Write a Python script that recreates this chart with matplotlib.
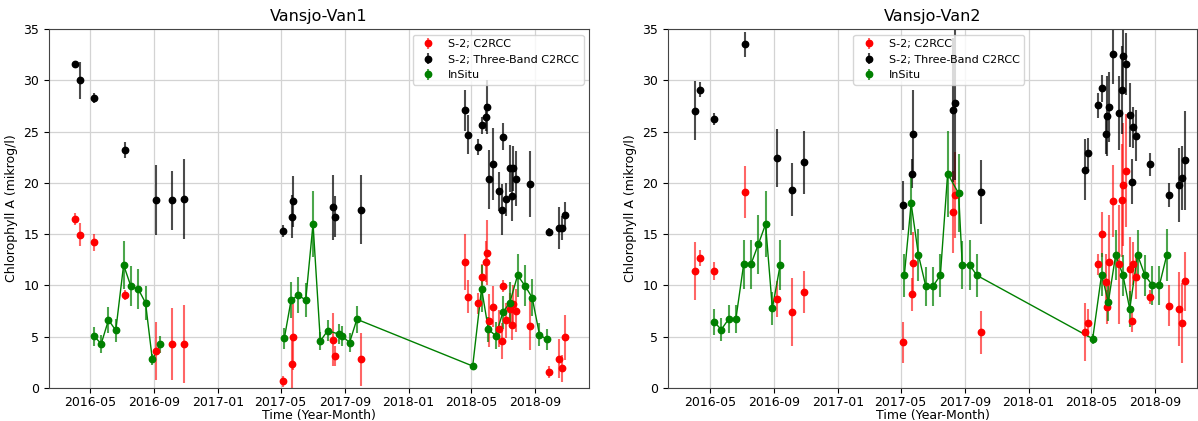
import pandas as pd
import matplotlib
matplotlib.use('Agg')
import matplotlib.pyplot as plt
import matplotlib.dates as mdates
from matplotlib.colors import to_rgba

# Sentinel-2 overpass dates (same for both stations)
sat_dates = pd.to_datetime([
    '2016-04-01', '2016-04-11', '2016-05-09', '2016-07-07', '2016-09-05', '2016-10-05', '2016-10-28',
    '2017-05-05', '2017-05-22', '2017-05-25', '2017-08-10', '2017-08-13', '2017-10-02',
    '2018-04-20', '2018-04-25', '2018-05-15', '2018-05-22', '2018-05-30', '2018-06-01', '2018-06-05',
    '2018-06-12', '2018-06-24', '2018-06-29', '2018-07-01', '2018-07-06', '2018-07-14', '2018-07-19',
    '2018-07-21', '2018-07-26', '2018-08-21', '2018-09-27', '2018-10-17', '2018-10-23', '2018-10-28'])

# In situ sampling dates
insitu_dates = pd.to_datetime([
    '2016-05-09', '2016-05-22', '2016-06-05', '2016-06-19', '2016-07-04', '2016-07-18', '2016-08-01',
    '2016-08-15', '2016-08-28', '2016-09-12',
    '2017-05-08', '2017-05-21', '2017-06-04', '2017-06-18', '2017-07-02', '2017-07-16', '2017-07-30',
    '2017-08-20', '2017-08-27', '2017-09-10', '2017-09-24',
    '2018-05-04', '2018-05-21', '2018-06-03', '2018-06-17', '2018-07-01', '2018-07-14', '2018-07-29',
    '2018-08-12', '2018-08-26', '2018-09-09', '2018-09-23'])
n_2016 = 10  # first season is not joined to the later ones

# Van1
van1_c2rcc = [16.5, 14.95, 14.2, 9.07, 3.6, 4.3, 4.25,
              0.65, 2.3, 5.0, 4.7, 3.1, 2.8,
              12.3, 8.9, 8.25, 10.85, 12.3, 13.2, 6.57, 7.93, 5.8, 4.58, 9.97, 6.6, 7.67, 6.14,
              8.2, 7.54, 6.08, 1.53, 2.83, 1.92, 4.94]
van1_c2rcc_err = [0.6, 1.1, 0.85, 0.5, 2.8, 3.5, 3.8,
                  0.55, 2.5, 3.2, 2.6, 1.0, 2.6,
                  2.7, 1.6, 1.0, 1.2, 2.0, 3.2, 2.6, 2.0, 1.8, 1.8, 0.6, 1.7, 1.6, 1.5,
                  1.8, 2.1, 2.4, 0.6, 1.9, 1.3, 2.2]
van1_3band = [31.6, 30.0, 28.3, 23.2, 18.3, 18.3, 18.4,
              15.34, 16.7, 18.2, 17.6, 16.7, 17.4,
              27.1, 24.7, 23.5, 25.6, 26.4, 27.4, 20.35, 21.8, 19.2, 17.4, 24.5, 18.4, 21.4, 18.7,
              21.4, 20.4, 19.9, 15.2, 15.6, 15.6, 16.9]
van1_3band_err = [0.2, 1.8, 0.5, 0.8, 3.4, 2.9, 3.9,
                  0.6, 2.1, 2.5, 3.2, 2.0, 3.4,
                  2.0, 1.9, 0.8, 0.8, 1.3, 2.6, 2.9, 3.5, 1.9, 2.5, 1.3, 1.6, 2.3, 2.4,
                  2.2, 2.7, 3.2, 0.4, 2.0, 1.2, 1.2]
van1_insitu = [5.04, 4.3, 6.63, 5.62, 12.0, 9.9, 9.65, 8.3, 2.8, 4.25,
               4.84, 8.58, 9.03, 8.58, 16.0, 4.58, 5.59, 5.26, 5.07, 4.42, 6.7,
               2.14, 9.7, 5.72, 5.1, 7.4, 8.3, 10.98, 9.98, 8.81, 5.2, 4.73]
van1_insitu_err = [0.95, 0.85, 1.3, 1.1, 2.3, 1.95, 1.95, 1.65, 0.55, 0.8,
                   1.0, 1.75, 1.75, 1.7, 3.2, 0.9, 1.05, 1.0, 1.0, 0.9, 1.3,
                   0.3, 2.3, 1.2, 1.3, 1.6, 2.0, 2.1, 2.0, 1.8, 1.1, 1.0]

# Van2
van2_c2rcc = [11.4, 12.7, 11.4, 19.1, 8.65, 7.44, 9.36,
              4.45, 9.13, 12.2, 17.2, 18.8, 5.43,
              5.45, 6.35, 12.05, 15.0, 10.3, 7.9, 12.25, 18.2, 12.06, 18.3, 19.8, 21.2, 11.6, 6.53,
              12.1, 10.8, 8.9, 8.0, 7.74, 6.37, 10.4]
van2_c2rcc_err = [2.8, 0.8, 0.9, 2.5, 1.75, 3.3, 2.0,
                  2.0, 1.6, 3.0, 4.0, 4.2, 2.1,
                  2.8, 1.4, 1.0, 2.2, 2.8, 1.7, 4.6, 3.5, 5.8, 5.5, 6.0, 5.5, 3.1, 1.1,
                  2.1, 2.1, 0.7, 2.0, 3.6, 3.9, 2.9]
van2_3band = [27.05, 29.1, 26.2, 33.5, 22.4, 19.35, 22.0,
              17.8, 20.9, 24.8, 27.1, 27.8, 19.1,
              21.3, 22.9, 27.55, 29.2, 24.8, 26.5, 27.4, 32.6, 26.8, 29.05, 32.4, 31.6, 26.6, 20.1,
              25.4, 24.6, 21.8, 18.8, 19.8, 20.5, 22.2]
van2_3band_err = [2.9, 0.7, 0.6, 1.25, 2.85, 2.55, 3.1,
                  2.4, 1.4, 4.3, 7.0, 7.5, 3.1,
                  3.0, 1.5, 1.2, 1.3, 2.0, 3.9, 3.4, 3.0, 3.6, 4.3, 3.5, 3.0, 3.1, 2.2,
                  2.0, 2.5, 1.1, 1.2, 3.6, 3.1, 4.8]
van2_insitu = [6.43, 5.69, 6.7, 6.7, 12.06, 12.06, 14.0, 15.96, 7.77, 12.0,
               11.0, 18.0, 12.97, 9.94, 9.94, 10.98, 20.9, 18.97, 12.0, 12.0, 10.98,
               4.8, 11.05, 8.4, 12.97, 11.0, 7.7, 12.97, 11.0, 10.04, 10.04, 12.97]
van2_insitu_err = [1.3, 1.1, 1.35, 1.35, 2.4, 2.4, 2.85, 3.2, 1.6, 2.4,
                   2.1, 3.1, 2.5, 1.9, 1.9, 2.1, 4.2, 3.8, 2.3, 2.4, 2.1,
                   0.5, 2.1, 1.9, 2.4, 2.0, 1.8, 2.4, 2.0, 1.9, 1.9, 2.5]


def station_plot(ax, title, c2rcc, c2rcc_err, band3, band3_err, insitu, insitu_err):
    ax.errorbar(sat_dates, c2rcc, yerr=c2rcc_err, fmt='o', color='red', ecolor=to_rgba('red', 0.6),
                ms=4.6, elinewidth=1.5, label='S-2; C2RCC')
    ax.errorbar(sat_dates, band3, yerr=band3_err, fmt='o', color='black', ecolor=to_rgba('black', 0.7),
                ms=4.6, elinewidth=1.5, label='S-2; Three-Band C2RCC')
    ax.errorbar(insitu_dates, insitu, yerr=insitu_err, fmt='o', color='green', ecolor=to_rgba('green', 0.7),
                ms=4.6, elinewidth=1.5, label='InSitu')
    ax.plot(insitu_dates[:n_2016], insitu[:n_2016], '-', color='green', lw=1.0)
    ax.plot(insitu_dates[n_2016:], insitu[n_2016:], '-', color='green', lw=1.0)
    ax.set_ylim(0, 35)
    ax.set_title(title, fontsize=11.5)
    ax.set_xlabel('Time (Year-Month)', fontsize=9, labelpad=0)
    ax.set_ylabel('Chlorophyll A (mikrog/l)', fontsize=9)
    ax.xaxis.set_major_locator(mdates.MonthLocator(bymonth=[1, 5, 9]))
    ax.xaxis.set_major_formatter(mdates.DateFormatter('%Y-%m'))
    ax.tick_params(labelsize=9)
    ax.tick_params(axis='x', pad=2)
    ax.grid(True, color='#d3d3d3', lw=0.9)
    ax.set_axisbelow(True)
    for s in ax.spines.values():
        s.set_color('#444444')


fig = plt.figure(figsize=(11.98, 4.21), dpi=100)
ax1 = fig.add_axes([0.0409, 0.0784, 0.4508, 0.8527])
ax2 = fig.add_axes([0.5576, 0.0784, 0.4416, 0.8527])

station_plot(ax1, 'Vansjo-Van1', van1_c2rcc, van1_c2rcc_err, van1_3band, van1_3band_err,
             van1_insitu, van1_insitu_err)
ax1.set_xlim(pd.Timestamp('2016-02-12'), pd.Timestamp('2018-12-13'))
ax1.legend(loc='upper right', fontsize=8)

station_plot(ax2, 'Vansjo-Van2', van2_c2rcc, van2_c2rcc_err, van2_3band, van2_3band_err,
             van2_insitu, van2_insitu_err)
ax2.set_xlim(pd.Timestamp('2016-02-10'), pd.Timestamp('2018-11-20'))
ax2.legend(loc='upper center', bbox_to_anchor=(0.512, 1.0), fontsize=8)

fig.savefig('out.png', dpi=100)
